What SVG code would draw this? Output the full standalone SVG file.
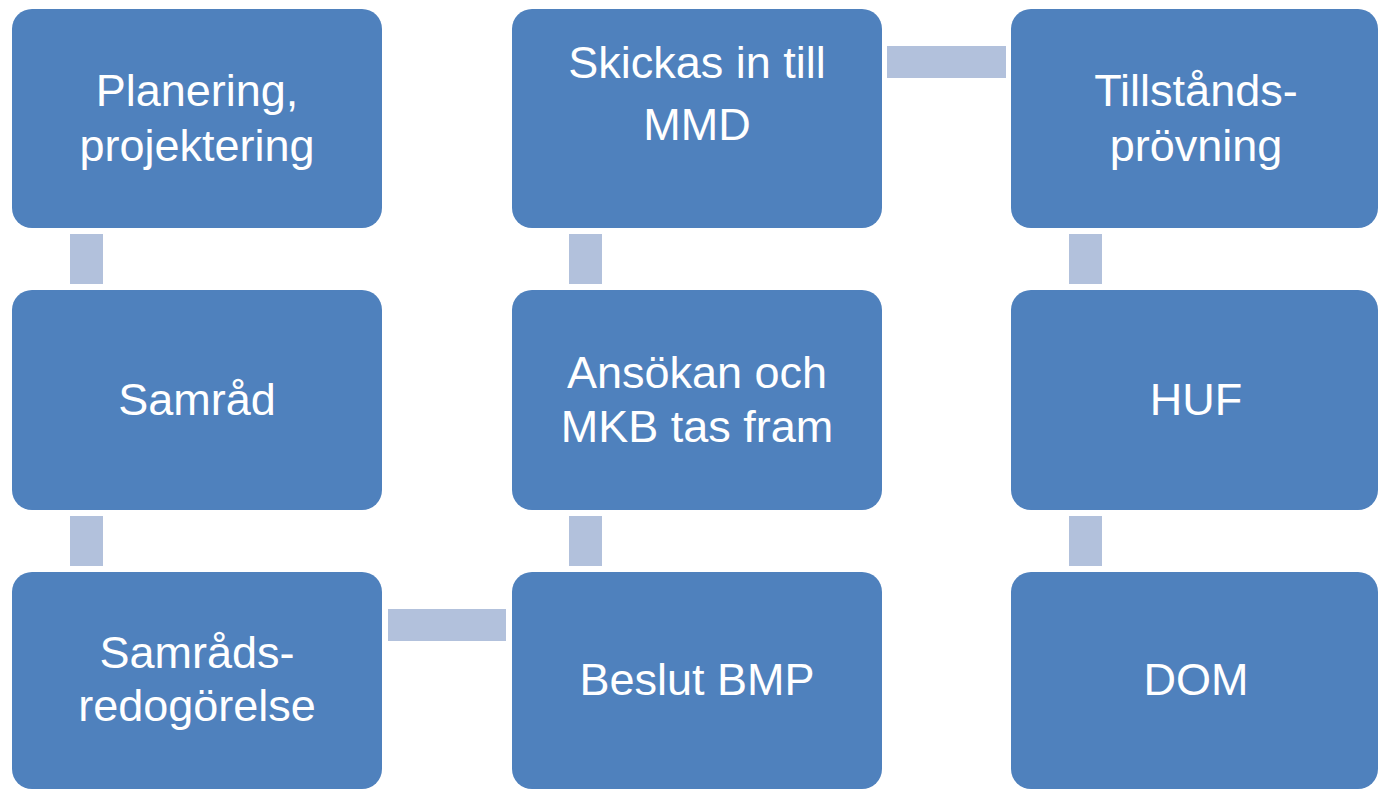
<svg xmlns="http://www.w3.org/2000/svg" width="1378" height="789" viewBox="0 0 1378 789">
<style>
.box{fill:#4f81bd}
.con{fill:#b2c1dc}
.t{font-family:"Liberation Sans",Arial,sans-serif;font-size:45px;fill:#ffffff;text-anchor:middle}
</style>
<rect width="1378" height="789" fill="#ffffff"/>
<g id="connectors">
<rect class="con" x="70" y="234" width="33" height="50"/>
<rect class="con" x="70" y="516" width="33" height="50"/>
<rect class="con" x="388" y="609" width="118" height="32"/>
<rect class="con" x="569" y="516" width="33" height="50"/>
<rect class="con" x="569" y="234" width="33" height="50"/>
<rect class="con" x="887" y="46" width="119" height="32"/>
<rect class="con" x="1069" y="234" width="33" height="50"/>
<rect class="con" x="1069" y="516" width="33" height="50"/>
</g>
<g id="n1"><rect class="box" x="12" y="9" width="370" height="219" rx="20"/><text class="t" x="197" y="106">Planering,</text><text class="t" x="197" y="161">projektering</text></g>
<g id="n2"><rect class="box" x="12" y="290" width="370" height="220" rx="20"/><text class="t" x="197" y="415">Samråd</text></g>
<g id="n3"><rect class="box" x="12" y="572" width="370" height="217" rx="20"/><text class="t" x="197" y="668">Samråds-</text><text class="t" x="197" y="721">redogörelse</text></g>
<g id="n4"><rect class="box" x="512" y="572" width="370" height="217" rx="20"/><text class="t" x="697" y="695">Beslut BMP</text></g>
<g id="n5"><rect class="box" x="512" y="290" width="370" height="220" rx="20"/><text class="t" x="697" y="388">Ansökan och</text><text class="t" x="697" y="442">MKB tas fram</text></g>
<g id="n6"><rect class="box" x="512" y="9" width="370" height="219" rx="20"/><text class="t" x="697" y="78">Skickas in till</text><text class="t" x="697" y="140">MMD</text></g>
<g id="n7"><rect class="box" x="1011" y="9" width="367" height="219" rx="20"/><text class="t" x="1196" y="106">Tillstånds-</text><text class="t" x="1196" y="161">prövning</text></g>
<g id="n8"><rect class="box" x="1011" y="290" width="367" height="220" rx="20"/><text class="t" x="1196" y="415">HUF</text></g>
<g id="n9"><rect class="box" x="1011" y="572" width="367" height="217" rx="20"/><text class="t" x="1196" y="695">DOM</text></g>
</svg>
